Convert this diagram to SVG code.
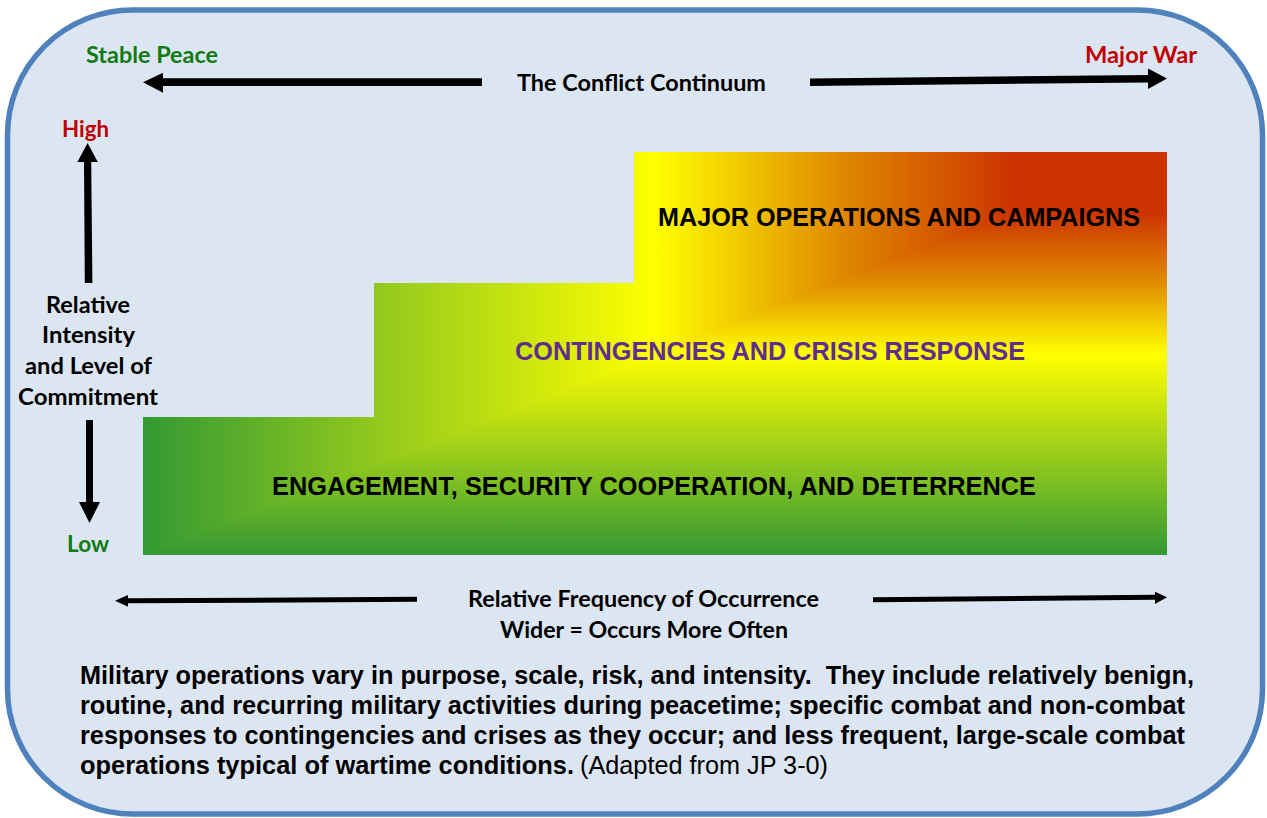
<svg xmlns="http://www.w3.org/2000/svg" width="1267" height="818" viewBox="0 0 1267 818">
  <style>
    .cal { font-family: Lato, "Open Sans", "Liberation Sans", sans-serif; font-weight: 700; font-size: 22px; fill: #000; }
    .ari { font-family: "Liberation Sans", Arial, sans-serif; font-weight: 700; font-size: 25px; fill: #000; }
    .reg { font-weight: 400; }
    .green { fill: #127A12; }
    .red { fill: #C00000; }
    .purple { fill: #5F2D8E; }
    .arrow { fill: #000; stroke: none; }
  </style>
  <defs>
    <!-- Rectangular gradient from the top-right corner, built from two linear ramps -->
    <linearGradient id="rampV" gradientUnits="userSpaceOnUse" x1="0" y1="152" x2="0" y2="555">
      <stop offset="0" stop-color="#CC3300"/>
      <stop offset="0.15" stop-color="#CC3300"/>
      <stop offset="0.32" stop-color="#E08A00"/>
      <stop offset="0.5" stop-color="#FFFF00"/>
      <stop offset="0.75" stop-color="#9ACD1B"/>
      <stop offset="1" stop-color="#339933"/>
    </linearGradient>
    <linearGradient id="rampH" gradientUnits="userSpaceOnUse" x1="1167" y1="0" x2="143" y2="0">
      <stop offset="0" stop-color="#CC3300"/>
      <stop offset="0.15" stop-color="#CC3300"/>
      <stop offset="0.32" stop-color="#E08A00"/>
      <stop offset="0.5" stop-color="#FFFF00"/>
      <stop offset="0.75" stop-color="#9ACD1B"/>
      <stop offset="1" stop-color="#339933"/>
    </linearGradient>
    <clipPath id="upperLeft">
      <polygon points="143,152 1167,152 143,555"/>
    </clipPath>
  </defs>

  <!-- outer panel -->
  <rect x="7.5" y="10" width="1255" height="804" rx="125" ry="125" fill="#DCE6F2" stroke="#4F81BD" stroke-width="5.5"/>

  <!-- bands -->
  <g id="band-major-operations">
    <rect x="634" y="152" width="533" height="131" fill="url(#rampV)"/>
    <rect x="634" y="152" width="533" height="131" fill="url(#rampH)" clip-path="url(#upperLeft)"/>
    <text class="ari" x="658" y="226" textLength="482" lengthAdjust="spacingAndGlyphs">MAJOR OPERATIONS AND CAMPAIGNS</text>
  </g>
  <g id="band-contingencies">
    <rect x="374" y="283" width="793" height="134" fill="url(#rampV)"/>
    <rect x="374" y="283" width="793" height="134" fill="url(#rampH)" clip-path="url(#upperLeft)"/>
    <text class="ari purple" x="515" y="360" textLength="510" lengthAdjust="spacingAndGlyphs">CONTINGENCIES AND CRISIS RESPONSE</text>
  </g>
  <g id="band-engagement">
    <rect x="143" y="417" width="1024" height="138" fill="url(#rampV)"/>
    <rect x="143" y="417" width="1024" height="138" fill="url(#rampH)" clip-path="url(#upperLeft)"/>
    <text class="ari" x="272" y="495" textLength="764" lengthAdjust="spacingAndGlyphs">ENGAGEMENT, SECURITY COOPERATION, AND DETERRENCE</text>
  </g>

  <!-- axis arrows -->
  <g id="connectors">
    <!-- conflict continuum, left -->
    <polygon class="arrow" points="482,78.3 482,86 163,86 163,92.7 143,82.2 163,72.7 163,78.3"/>
    <!-- conflict continuum, right -->
    <polygon class="arrow" points="810,78.5 1148,75 1148,68.5 1167,78.5 1148,89 1148,82.5 810,86"/>
    <!-- intensity, up -->
    <polygon class="arrow" points="84.8,283 92.4,283 91.2,162 97.8,162 87.6,143 77.4,162 84,162"/>
    <!-- intensity, down -->
    <polygon class="arrow" points="86,420 93,420 93,502 100,502 89.5,523 79,502 86,502"/>
    <!-- frequency, left -->
    <polygon class="arrow" points="417,596.8 417,601.8 128,603.3 128,606.7 115,600.7 128,595 128,598.3"/>
    <!-- frequency, right -->
    <polygon class="arrow" points="873,597.3 1155,594.8 1155,591.7 1167,597.3 1155,604 1155,599.8 873,602.2"/>
  </g>

  <!-- axis labels -->
  <g id="labels">
    <text class="cal green" x="86" y="63" textLength="132" lengthAdjust="spacingAndGlyphs">Stable Peace</text>
    <text class="cal" x="517" y="91" textLength="249" lengthAdjust="spacingAndGlyphs">The Conflict Continuum</text>
    <text class="cal red" x="1085" y="63" textLength="112" lengthAdjust="spacingAndGlyphs">Major War</text>
    <text class="cal red" x="62" y="137" textLength="47" lengthAdjust="spacingAndGlyphs">High</text>
    <text class="cal" x="46" y="313" textLength="84" lengthAdjust="spacingAndGlyphs">Relative</text>
    <text class="cal" x="42" y="343" textLength="93" lengthAdjust="spacingAndGlyphs">Intensity</text>
    <text class="cal" x="25" y="374" textLength="127" lengthAdjust="spacingAndGlyphs">and Level of</text>
    <text class="cal" x="18" y="405" textLength="140" lengthAdjust="spacingAndGlyphs">Commitment</text>
    <text class="cal green" x="67" y="552" textLength="42" lengthAdjust="spacingAndGlyphs">Low</text>
    <text class="cal" x="468" y="607" textLength="351" lengthAdjust="spacingAndGlyphs">Relative Frequency of Occurrence</text>
    <text class="cal" x="500" y="638" textLength="288" lengthAdjust="spacingAndGlyphs">Wider = Occurs More Often</text>
  </g>

  <!-- caption -->
  <g id="caption">
    <text class="ari" x="80" y="684" textLength="1114" lengthAdjust="spacingAndGlyphs">Military operations vary in purpose, scale, risk, and intensity.&#160; They include relatively benign,</text>
    <text class="ari" x="80" y="714" textLength="1105" lengthAdjust="spacingAndGlyphs">routine, and recurring military activities during peacetime; specific combat and non-combat</text>
    <text class="ari" x="80" y="744" textLength="1105" lengthAdjust="spacingAndGlyphs">responses to contingencies and crises as they occur; and less frequent, large-scale combat</text>
    <text class="ari" x="80" y="774" textLength="494" lengthAdjust="spacingAndGlyphs">operations typical of wartime conditions.</text>
    <text class="ari reg" x="580" y="774" textLength="248" lengthAdjust="spacingAndGlyphs">(Adapted from JP 3-0)</text>
  </g>
</svg>
